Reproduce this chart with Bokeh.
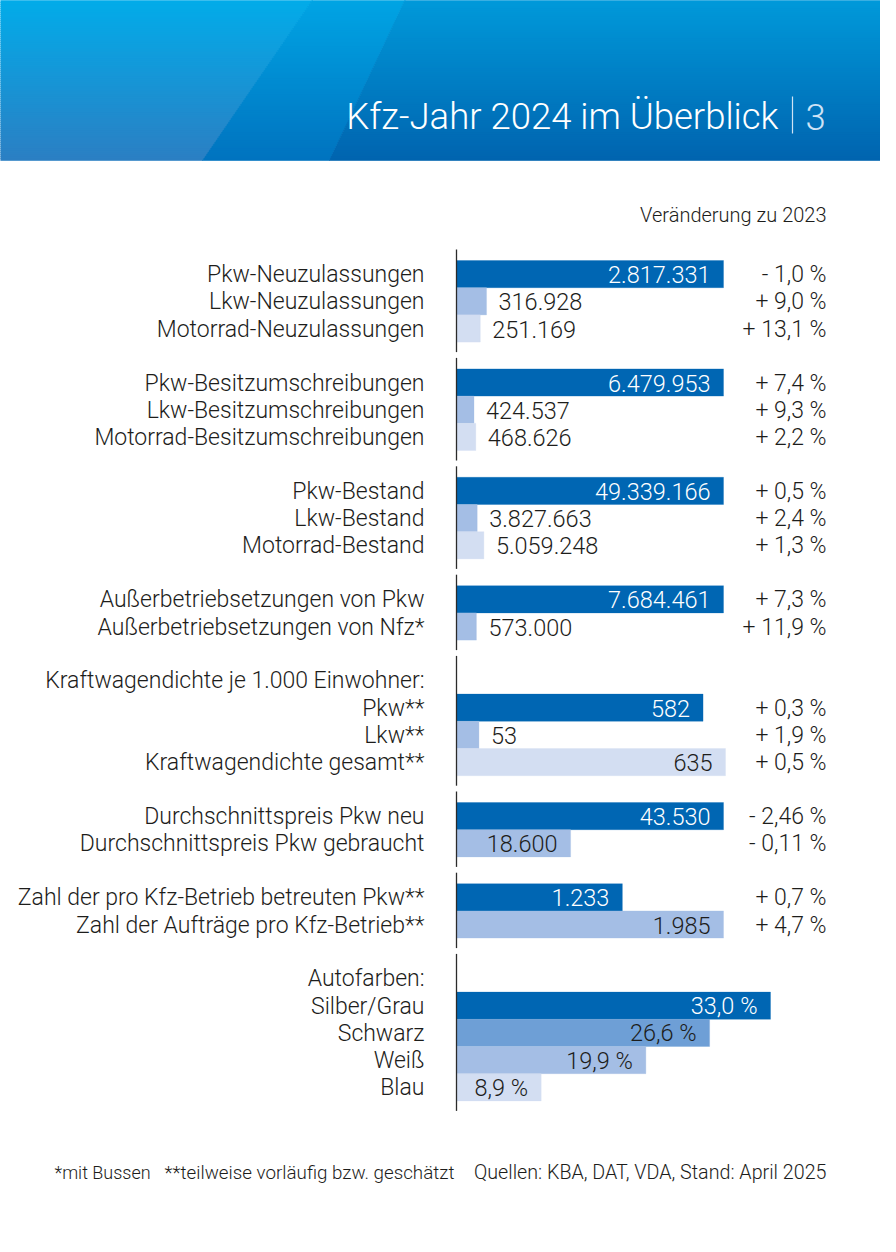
from bokeh.plotting import figure
from bokeh.models import Range1d, ColumnDataSource
from bokeh.core.properties import value
from bokeh.embed import file_html
from bokeh.resources import INLINE

# ---------------- data ----------------
title = "Kfz-Jahr 2024 im Überblick"
page_no = "3"
change_header = "Veränderung zu 2023"

group_headings = [None, None, None, None,
                  "Kraftwagendichte je 1.000 Einwohner:", None, None, "Autofarben:"]

row_group = [0, 0, 0, 1, 1, 1, 2, 2, 2, 3, 3, 4, 4, 4, 5, 5, 6, 6, 7, 7, 7, 7]

row_labels = [
    "Pkw-Neuzulassungen", "Lkw-Neuzulassungen", "Motorrad-Neuzulassungen",
    "Pkw-Besitzumschreibungen", "Lkw-Besitzumschreibungen", "Motorrad-Besitzumschreibungen",
    "Pkw-Bestand", "Lkw-Bestand", "Motorrad-Bestand",
    "Außerbetriebsetzungen von Pkw", "Außerbetriebsetzungen von Nfz*",
    "Pkw**", "Lkw**", "Kraftwagendichte gesamt**",
    "Durchschnittspreis Pkw neu", "Durchschnittspreis Pkw gebraucht",
    "Zahl der pro Kfz-Betrieb betreuten Pkw**", "Zahl der Aufträge pro Kfz-Betrieb**",
    "Silber/Grau", "Schwarz", "Weiß", "Blau",
]

row_values = [
    2817331, 316928, 251169,
    6479953, 424537, 468626,
    49339166, 3827663, 5059248,
    7684461, 573000,
    582, 53, 635,
    43530, 18600,
    1233, 1985,
    33.0, 26.6, 19.9, 8.9,
]

row_changes = [
    "- 1,0 %", "+ 9,0 %", "+ 13,1 %",
    "+ 7,4 %", "+ 9,3 %", "+ 2,2 %",
    "+ 0,5 %", "+ 2,4 %", "+ 1,3 %",
    "+ 7,3 %", "+ 11,9 %",
    "+ 0,3 %", "+ 1,9 %", "+ 0,5 %",
    "- 2,46 %", "- 0,11 %",
    "+ 0,7 %", "+ 4,7 %",
    "", "", "", "",
]

row_shade = [0, 2, 3, 0, 2, 3, 0, 2, 3, 0, 2, 0, 2, 3, 0, 2, 0, 2, 0, 1, 2, 3]
percent_group = 7

footnote_1 = "*mit Bussen"
footnote_2 = "**teilweise vorläufig bzw. geschätzt"
sources_note = "Quellen: KBA, DAT, VDA, Stand: April 2025"

# ---------------- style ----------------
FONT = "Roboto Light"
shade_colors = ["#0066B3", "#6E9FD6", "#A4BEE5", "#D3DEF2"]
TEXT = "#1d1d1b"
BAR_X0 = 464
group_span = [267, 267, 267, 267, 269, 267, 267, 314]
ROW_H = 27.2
GAP = 26.8
Y0 = 268.0


def fmt(v, g):
    if g == percent_group:
        return ("%.1f %%" % v).replace(".", ",")
    return "{:,}".format(int(v)).replace(",", ".")


p = figure(width=880, height=1236, output_backend="svg", toolbar_location=None,
           x_range=Range1d(8, 888), y_range=Range1d(1244, 8),
           min_border=0, background_fill_color="white", border_fill_color="white")
p.axis.visible = False
p.grid.visible = False
p.outline_line_color = None

# ---------------- header (gradient strips) ----------------
def lerp(c1, c2, t):
    a = [int(c1[i:i + 2], 16) for i in (1, 3, 5)]
    b = [int(c2[i:i + 2], 16) for i in (1, 3, 5)]
    return "#%02x%02x%02x" % tuple(round(a[k] + (b[k] - a[k]) * t) for k in range(3))

H = 168.0
n = 84
d1 = (325.0, 210.0)
d2 = (416.0, 337.0)
regions = [("#00AEEB", "#2B7FC3"), ("#00A7E6", "#0073BF"), ("#009CDC", "#0064AF")]
xs, ys, cols = [], [], []
for k in range(n):
    ya, yb = H * k / n, H * (k + 1) / n
    t = (k + 0.5) / n
    xa1 = d1[0] + (d1[1] - d1[0]) * ya / H
    xb1 = d1[0] + (d1[1] - d1[0]) * yb / H
    xa2 = d2[0] + (d2[1] - d2[0]) * ya / H
    xb2 = d2[0] + (d2[1] - d2[0]) * yb / H
    polys = [([0, xa1, xb1, 0], regions[0]),
             ([xa1, xa2, xb2, xb1], regions[1]),
             ([xa2, 900, 900, xb2], regions[2])]
    for pxs, (c1, c2) in polys:
        xs.append(pxs)
        ys.append([ya, ya, min(yb + 0.6, H), min(yb + 0.6, H)])
        cols.append(lerp(c1, c2, t))
p.patches(xs, ys, fill_color=cols, line_color=cols, line_width=0.6)

p.text(x=[786], y=[124], text=[title], text_align="right", text_baseline="middle",
       text_color="white", text_font=value(FONT), text_font_size="36.5px")
p.segment(x0=[800], y0=[104], x1=[800], y1=[141], line_color="#cfe3f5", line_width=1.2)
p.text(x=[813], y=[124], text=[page_no], text_align="left", text_baseline="middle",
       text_color="#cfe3f6", text_font=value(FONT), text_font_size="36.5px")

p.text(x=[834], y=[222], text=[change_header], text_align="right", text_baseline="middle",
       text_color=TEXT, text_font=value(FONT), text_font_size="20px")

# ---------------- layout of rows ----------------
row_top = []
head_x, head_y, head_t = [], [], []
line_y0, line_y1 = [], []
y = Y0
for g in range(len(group_headings)):
    gtop = y
    if group_headings[g]:
        head_x.append(432)
        head_y.append(y + ROW_H / 2)
        head_t.append(group_headings[g])
        y += ROW_H
    for i, rg in enumerate(row_group):
        if rg == g:
            row_top.append(y)
            y += ROW_H
    line_y0.append(gtop - 11)
    line_y1.append(y + 10)
    y += GAP

gmax = {}
for v, g in zip(row_values, row_group):
    gmax[g] = max(gmax.get(g, 0), v)

right, top, bot, ymid, colors = [], [], [], [], []
vx, vy, vt, valign, vcol = [], [], [], [], []
for i, (v, g) in enumerate(zip(row_values, row_group)):
    length = v / gmax[g] * group_span[g]
    r = BAR_X0 + length
    right.append(r)
    top.append(row_top[i])
    bot.append(row_top[i] + ROW_H)
    ymid.append(row_top[i] + ROW_H / 2)
    colors.append(shade_colors[row_shade[i]])
    vt.append(fmt(v, g))
    vy.append(row_top[i] + ROW_H / 2 + 0.5)
    if length >= 80:
        vx.append(r - 13)
        valign.append("right")
        vcol.append("white" if row_shade[i] == 0 else TEXT)
    else:
        vx.append(r + 12)
        valign.append("left")
        vcol.append(TEXT)

bars = ColumnDataSource(dict(left=[BAR_X0] * len(right), right=right, top=top, bottom=bot,
                             color=colors))
p.quad(left="left", right="right", top="top", bottom="bottom", fill_color="color",
       line_color="color", line_width=0.3, source=bars)

p.segment(x0=[BAR_X0] * len(line_y0), y0=line_y0, x1=[BAR_X0] * len(line_y0), y1=line_y1,
          line_color="#2b2b2b", line_width=1.3)

vals = ColumnDataSource(dict(x=vx, y=vy, text=vt, align=valign, color=vcol))
p.text(x="x", y="y", text="text", text_align="align", text_baseline="middle",
       text_color="color", text_font=value(FONT), text_font_size="23.5px", source=vals)

labs = ColumnDataSource(dict(x=[432] * len(row_labels) + head_x,
                             y=[m + 0.5 for m in ymid] + head_y,
                             text=row_labels + head_t))
p.text(x="x", y="y", text="text", text_align="right", text_baseline="middle",
       text_color=TEXT, text_font=value(FONT), text_font_size="23px", source=labs)

chg = ColumnDataSource(dict(x=[834] * len(row_changes), y=[m + 0.5 for m in ymid],
                            text=row_changes))
p.text(x="x", y="y", text="text", text_align="right", text_baseline="middle",
       text_color=TEXT, text_font=value(FONT), text_font_size="23px", source=chg)

# ---------------- footer ----------------
p.text(x=[62], y=[1180], text=[footnote_1], text_align="left",
       text_baseline="middle", text_color=TEXT, text_font=value(FONT), text_font_size="18px")
p.text(x=[172], y=[1180], text=[footnote_2], text_align="left",
       text_baseline="middle", text_color=TEXT, text_font=value(FONT), text_font_size="18.8px")
p.text(x=[834], y=[1180], text=[sources_note], text_align="right",
       text_baseline="middle", text_color=TEXT, text_font=value(FONT), text_font_size="19.7px")

open("out.html", "w").write(file_html(p, INLINE))
